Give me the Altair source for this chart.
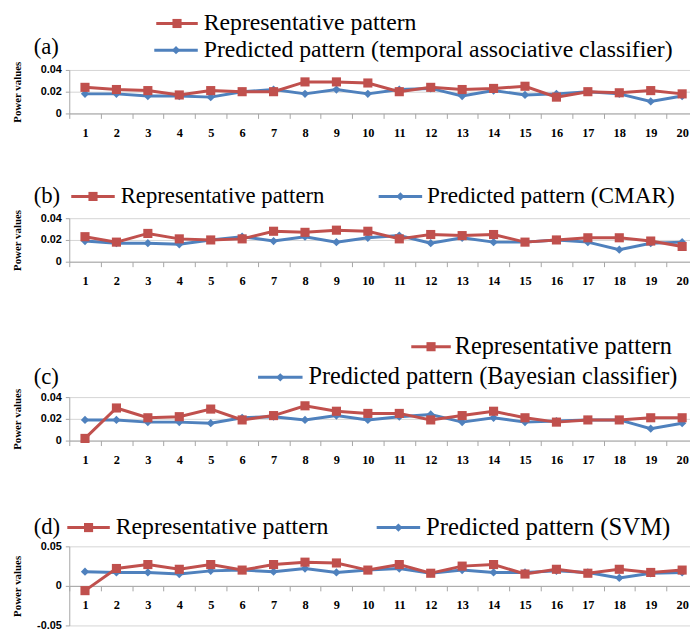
import altair as alt
import pandas as pd

SERIF = "Liberation Serif"
SANS = "Liberation Sans"
RED = "#C0504D"
BLUE = "#4F81BD"

idx = list(range(1, 21))

a_rep = [0.024, 0.022, 0.021, 0.017, 0.021, 0.020, 0.020, 0.029, 0.029, 0.028,
         0.020, 0.024, 0.022, 0.023, 0.025, 0.015, 0.020, 0.019, 0.021, 0.018]
a_pred = [0.018, 0.018, 0.016, 0.016, 0.015, 0.020, 0.022, 0.018, 0.022, 0.018,
          0.022, 0.023, 0.016, 0.021, 0.017, 0.018, 0.020, 0.018, 0.011, 0.016]

b_rep = [0.023, 0.018, 0.026, 0.021, 0.020, 0.021, 0.028, 0.027, 0.029, 0.028,
         0.021, 0.025, 0.024, 0.025, 0.018, 0.020, 0.022, 0.022, 0.019, 0.014]
b_pred = [0.019, 0.017, 0.017, 0.016, 0.020, 0.023, 0.019, 0.023, 0.018, 0.022,
          0.024, 0.017, 0.022, 0.018, 0.018, 0.020, 0.018, 0.011, 0.017, 0.018]

c_rep = [0.002, 0.030, 0.021, 0.022, 0.029, 0.019, 0.023, 0.032, 0.027, 0.025,
         0.025, 0.019, 0.023, 0.027, 0.021, 0.017, 0.019, 0.019, 0.021, 0.021]
c_pred = [0.019, 0.019, 0.017, 0.017, 0.016, 0.021, 0.022, 0.019, 0.023, 0.019,
          0.022, 0.024, 0.017, 0.021, 0.017, 0.018, 0.019, 0.019, 0.011, 0.016]

d_rep = [-0.006, 0.022, 0.027, 0.021, 0.027, 0.020, 0.027, 0.030, 0.029, 0.020,
         0.027, 0.016, 0.025, 0.027, 0.015, 0.021, 0.016, 0.021, 0.017, 0.020]
d_pred = [0.018, 0.017, 0.017, 0.015, 0.019, 0.020, 0.018, 0.022, 0.017, 0.020,
          0.022, 0.016, 0.020, 0.017, 0.017, 0.019, 0.017, 0.010, 0.016, 0.017]

rep_label = "Representative pattern"
pred_labels = [
    "Predicted pattern (temporal associative classifier)",
    "Predicted pattern (CMAR)",
    "Predicted pattern (Bayesian classifier)",
    "Predicted pattern (SVM)",
]
panel_letters = ["(a)", "(b)", "(c)", "(d)"]

PLOT_LEFT = 70  # page x of plot left edge
WIDTH = 628
one = pd.DataFrame({"k": [0]})


def legend_entry(x0, x1, y, color, shape, size, text, tx, origin, fs):
    X0, X1, Y, TX = x0 - PLOT_LEFT, x1 - PLOT_LEFT, y - origin, tx - PLOT_LEFT
    rule = alt.Chart(one).mark_rule(color=color, strokeWidth=3).encode(
        x=alt.value(X0), x2=alt.value(X1), y=alt.value(Y))
    pt = alt.Chart(one).mark_point(shape=shape, filled=True, size=size, color=color,
                                   opacity=1).encode(x=alt.value((X0 + X1) / 2), y=alt.value(Y))
    txt = alt.Chart(one).mark_text(align="left", baseline="middle", font=SERIF, fontSize=fs,
                                   color="black").encode(
        x=alt.value(TX), y=alt.value(Y), text=alt.value(text))
    return [rule, pt, txt]


def letter(text, x, y, origin, fs=23):
    return alt.Chart(one).mark_text(align="left", baseline="middle", font=SERIF, fontSize=fs,
                                    color="black").encode(
        x=alt.value(x - PLOT_LEFT), y=alt.value(y - origin), text=alt.value(text))


LABEL_EXPR_Y = ("datum.value == 0 ? '0' : (datum.value < 0 ? '-' + format(-datum.value, '.2f') "
                ": format(datum.value, '.2f'))")


def panel(rep, pred, ydom, yvals, height, plot_h, x_offset, legend_layers):
    df = pd.DataFrame({"idx": idx * 2, "value": rep + pred,
                       "series": ["rep"] * 20 + ["pred"] * 20})
    xenc = alt.X("idx:Q",
                 scale=alt.Scale(domain=[0.5, 20.25], nice=False, zero=False),
                 axis=alt.Axis(values=[i + 0.5 for i in range(20)],
                               labelExpr="datum.value < 20 ? format(datum.value + 0.5, 'd') : ''",
                               labelOffset=15.9, tickSize=5, tickColor="#a6a6a6",
                               domainColor="#a6a6a6", grid=False, title=None,
                               labelFont=SERIF, labelFontWeight="bold", labelFontSize=12.5,
                               labelPadding=8, labelFlush=False, labelOverlap=False,
                               labelBound=False, offset=x_offset, labelColor="black"))
    yenc = alt.Y("value:Q",
                 scale=alt.Scale(domain=ydom, range=[height, height - plot_h], nice=False,
                                 zero=False),
                 axis=alt.Axis(values=yvals, labelExpr=LABEL_EXPR_Y, labelFont=SANS,
                               labelFontWeight="bold", labelFontSize=11, labelPadding=4,
                               tickSize=4, tickColor="#a6a6a6", domainColor="#a6a6a6",
                               grid=True, gridColor="#d4d4d4", title="Power values",
                               titleFont=SERIF, titleFontWeight="bold", titleFontSize=11,
                               titleX=-47, labelColor="black", titleColor="black"))
    base = alt.Chart(df)
    pred_line = base.transform_filter(alt.datum.series == "pred").mark_line(
        color=BLUE, strokeWidth=3).encode(x=xenc, y=yenc)
    pred_pts = base.transform_filter(alt.datum.series == "pred").mark_point(
        shape="diamond", filled=True, size=70, color=BLUE, opacity=1).encode(x=xenc, y=yenc)
    rep_line = base.transform_filter(alt.datum.series == "rep").mark_line(
        color=RED, strokeWidth=3).encode(x=xenc, y=yenc)
    rep_pts = base.transform_filter(alt.datum.series == "rep").mark_point(
        shape="square", filled=True, size=85, color=RED, opacity=1).encode(x=xenc, y=yenc)
    return alt.layer(pred_line, pred_pts, rep_line, rep_pts, *legend_layers).properties(
        width=WIDTH, height=height)


# panel (a): origin page y 8
oa = 8
la = (legend_entry(158, 200, 19, RED, "square", 85, rep_label, 206, oa, 24)
      + legend_entry(156, 200, 46, BLUE, "diamond", 70, pred_labels[0], 206, oa, 24)
      + [letter(panel_letters[0], 34, 43, oa)])
pa = panel(a_rep, a_pred, [0, 0.04], [0, 0.02, 0.04], 102, 44, 0, la)

ob = 110
lb = (legend_entry(72, 116, 194, RED, "square", 85, rep_label, 122, ob, 23)
      + legend_entry(383, 427, 194, BLUE, "diamond", 70, pred_labels[1], 432, ob, 23.5)
      + [letter(panel_letters[1], 34, 194, ob)])
pb = panel(b_rep, b_pred, [0, 0.04], [0, 0.02, 0.04], 150, 44, 0, lb)

oc = 260
lc = (legend_entry(416, 456, 346, RED, "square", 85, rep_label, 460, oc, 24.5)
      + legend_entry(261, 306, 377, BLUE, "diamond", 70, pred_labels[2], 312, oc, 24.5)
      + [letter(panel_letters[2], 34, 377, oc)])
pc = panel(c_rep, c_pred, [0, 0.04], [0, 0.02, 0.04], 181, 44, 0, lc)

od = 441
ld = (legend_entry(68, 111, 529, RED, "square", 85, rep_label, 117, od, 24)
      + legend_entry(381, 425, 529, BLUE, "diamond", 70, pred_labels[3], 431, od, 25)
      + [letter(panel_letters[3], 34, 529, od)])
pdn = panel(d_rep, d_pred, [-0.05, 0.05], [-0.05, 0, 0.05], 187, 80, -40, ld)

chart = alt.vconcat(pa, pb, pc, pdn, spacing=0, bounds="flush").resolve_scale(
    x="independent", y="independent").properties(
    padding={"left": 4, "top": 0, "right": 0, "bottom": 0}, background="white"
).configure_view(stroke=None)

chart.save("out.html", embed_options={"renderer": "svg", "actions": False})
